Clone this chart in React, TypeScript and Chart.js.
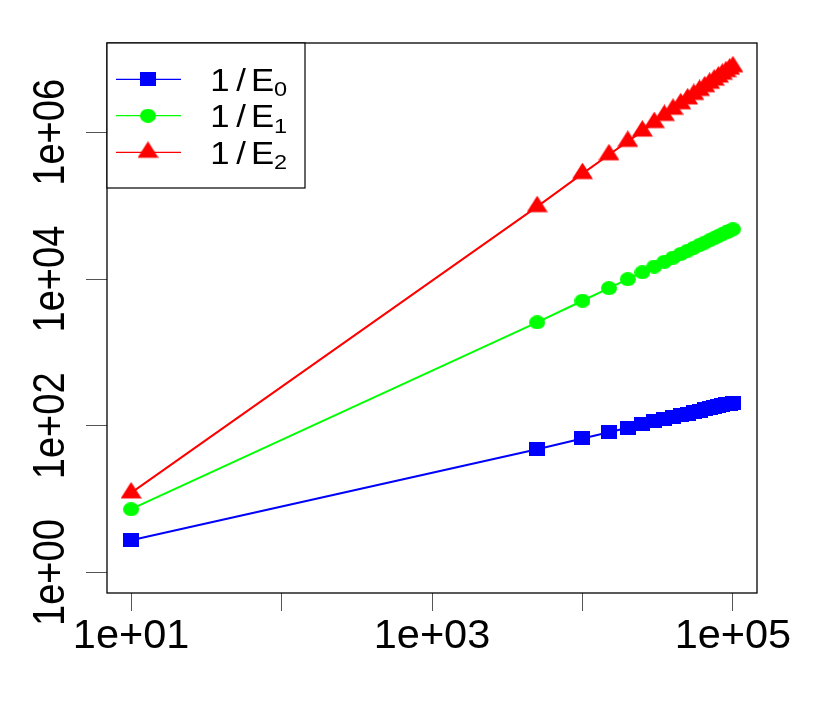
import React, { useEffect, useRef } from 'react';
import { Chart, registerables } from 'chart.js';

Chart.register(...registerables);

// ---- data ----
const xValues = [10, 5000, 10000, 15000, 20000, 25000, 30000, 35000, 40000, 45000, 50000,
  55000, 60000, 65000, 70000, 75000, 80000, 85000, 90000, 95000, 100000];

const invE0 = [2.76, 48.1, 67.3, 82, 94.3, 105.1, 114.8, 123.7, 132, 139.8, 147.1,
  154.1, 160.8, 167.1, 173.3, 179.2, 184.9, 190.4, 195.8, 201, 206.1];

const invE1 = [7.31, 2575, 5070, 7530, 9966, 12388, 14797, 17200, 19590, 21973, 24351,
  26722, 29089, 31449, 33808, 36158, 38508, 40856, 43194, 45532, 47864];

const invE2 = [12.2, 97000, 274000, 494500, 751700, 1040300, 1356600, 1698200, 2062300, 2448200, 2854000,
  3278700, 3722000, 4181800, 4658000, 5150400, 5657600, 6180300, 6716300, 7266500, 7829800];

const seriesSubscripts = ['0', '1', '2'];
const seriesColors = ['#0000ff', '#00ff00', '#ff0000'];
const seriesMarkers = ['rect', 'circle', 'triangle'];

const xTickValues = [10, 100, 1000, 10000, 100000];
const xTickLabels = ['1e+01', '', '1e+03', '', '1e+05'];
const yTickValues = [1, 100, 10000, 1000000];
const yTickLabels = ['1e+00', '1e+02', '1e+04', '1e+06'];

const X_MIN = 6.918;
const X_MAX = 144544;
const Y_MIN = 0.527;
const Y_MAX = 1.65e7;

const FONT = "'Liberation Sans', Arial, Helvetica, sans-serif";

function makeMarker(kind: string, color: string): HTMLCanvasElement {
  const c = document.createElement('canvas');
  let w = 16, h = 14;
  if (kind === 'circle') { w = 16; h = 14; }
  if (kind === 'triangle') { w = 21; h = 22; }
  c.width = w; c.height = h;
  const ctx = c.getContext('2d')!;
  ctx.fillStyle = color;
  if (kind === 'rect') {
    ctx.fillRect(0, 0, w, h);
  } else if (kind === 'circle') {
    ctx.beginPath();
    ctx.ellipse(w / 2, h / 2, w / 2, h / 2, 0, 0, Math.PI * 2);
    ctx.fill();
  } else {
    ctx.beginPath();
    ctx.moveTo(w / 2, 0);
    ctx.lineTo(w, 16.5);
    ctx.lineTo(0, 16.5);
    ctx.closePath();
    ctx.fill();
  }
  return c;
}

export default function App() {
  const ref = useRef<HTMLCanvasElement | null>(null);

  useEffect(() => {
    if (!ref.current) return;
    const markers = seriesMarkers.map((m, i) => makeMarker(m, seriesColors[i]));
    const series = [invE0, invE1, invE2];

    const decor = {
      id: 'rDecor',
      afterDraw(chart: any) {
        const ctx = chart.ctx as CanvasRenderingContext2D;
        const a = chart.chartArea;
        ctx.save();
        // plot box
        ctx.strokeStyle = '#000';
        ctx.lineWidth = 1.3;
        ctx.strokeRect(a.left, a.top, a.right - a.left, a.bottom - a.top);

        // y tick labels (rotated, R style)
        const ys = chart.scales.y;
        ctx.fillStyle = '#000';
        ctx.font = `38px ${FONT}`;
        ctx.textAlign = 'center';
        ctx.textBaseline = 'alphabetic';
        yTickValues.forEach((v, i) => {
          const py = ys.getPixelForValue(v);
          ctx.save();
          ctx.translate(64, py);
          ctx.rotate(-Math.PI / 2);
          ctx.scale(1, 1.16);
          ctx.fillText(yTickLabels[i], 0, 0);
          ctx.restore();
        });

        // legend
        const lx = a.left, ly = a.top, lw = 198, lh = 145;
        ctx.fillStyle = '#fff';
        ctx.fillRect(lx, ly, lw, lh);
        ctx.strokeStyle = '#000';
        ctx.lineWidth = 1.2;
        ctx.strokeRect(lx, ly, lw, lh);
        const rows = [79.3, 115.7, 152.3];
        rows.forEach((ry, i) => {
          ctx.strokeStyle = seriesColors[i];
          ctx.lineWidth = 1.2;
          ctx.beginPath();
          ctx.moveTo(116, ry);
          ctx.lineTo(181, ry);
          ctx.stroke();
          const m = markers[i];
          ctx.drawImage(m, 148 - m.width / 2, ry - m.height / 2);
          ctx.fillStyle = '#000';
          ctx.textAlign = 'center';
          ctx.textBaseline = 'alphabetic';
          const drawGlyph = (t: string, cx: number, by: number, size: number) => {
            ctx.save();
            ctx.translate(cx, by);
            ctx.scale(1.12, 1);
            ctx.font = `${size}px ${FONT}`;
            ctx.fillText(t, 0, 0);
            ctx.restore();
          };
          drawGlyph('1', 220, ry + 11.4, 31);
          drawGlyph('/', 241, ry + 11.4, 31);
          drawGlyph('E', 262.5, ry + 11.4, 31);
          drawGlyph(seriesSubscripts[i], 280.5, ry + 17, 21);
        });
        ctx.restore();
      },
    };

    const chart = new Chart(ref.current, {
      type: 'line',
      data: {
        datasets: series.map((vals, i) => ({
          label: '1/E' + seriesSubscripts[i],
          data: xValues.map((x, j) => ({ x, y: vals[j] })),
          borderColor: seriesColors[i],
          backgroundColor: seriesColors[i],
          borderWidth: 2,
          pointStyle: markers[i] as any,
          pointRadius: 8,
          tension: 0,
        })),
      },
      options: {
        animation: false,
        responsive: false,
        layout: { padding: { top: 43, right: 73, left: 0, bottom: 0 } },
        plugins: { legend: { display: false }, tooltip: { enabled: false } },
        events: [],
        scales: {
          x: {
            type: 'logarithmic',
            min: X_MIN,
            max: X_MAX,
            afterBuildTicks: (s: any) => { s.ticks = xTickValues.map((v) => ({ value: v })); },
            afterFit: (s: any) => { s.height = 113; },
            ticks: {
              autoSkip: false,
              maxRotation: 0,
              minRotation: 0,
              padding: 1,
              color: '#000',
              font: { family: FONT, size: 41.5 },
              callback: (_v: any, i: number) => xTickLabels[i] ?? '',
            },
            grid: { display: true, drawOnChartArea: false, drawTicks: true, tickLength: 18, color: '#555', lineWidth: 1 },
            border: { display: false },
          },
          y: {
            type: 'logarithmic',
            min: Y_MIN,
            max: Y_MAX,
            afterBuildTicks: (s: any) => { s.ticks = yTickValues.map((v) => ({ value: v })); },
            afterFit: (s: any) => { s.width = 107; },
            ticks: { display: false },
            grid: { display: true, drawOnChartArea: false, drawTicks: true, tickLength: 21, color: '#555', lineWidth: 1 },
            border: { display: false },
          },
        },
      },
      plugins: [decor],
    });
    return () => chart.destroy();
  }, []);

  return (
    <div style={{ position: 'absolute', left: 0, top: 0, width: 830, height: 706, background: '#fff' }}>
      <canvas ref={ref} width={830} height={706} style={{ display: 'block' }} />
    </div>
  );
}
